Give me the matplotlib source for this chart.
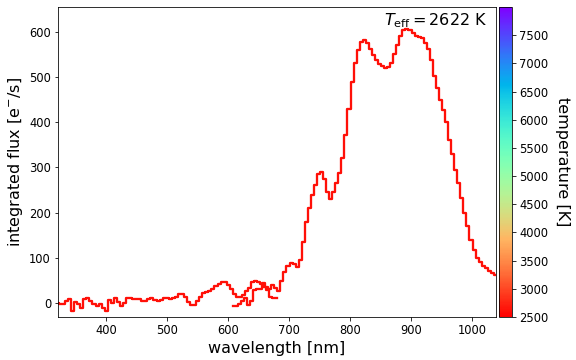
#!/usr/bin/env python
"""Espectro integrado BP/RP con barra de temperatura."""

import matplotlib

matplotlib.use("Agg")
import matplotlib.pyplot as plt
from matplotlib import cm, colors

T_EFF = 2622
T_MIN, T_MAX = 2500, 8000
CBAR_TICKS = [2500, 3000, 3500, 4000, 4500, 5000, 5500, 6000, 6500, 7000, 7500]

# BP (azul)
bp_wl = list(range(320, 685, 5))
bp_flux = [
    0, -2, -3, 5, 9, -18, 3, -2, -10, 8,
    10, 5, -2, -7, -3, -10, -17, 7, 1, 10,
    2, -6, 1, 11, 12, 9, 9, 8, 5, 5,
    8, 11, 7, 4, 6, 11, 12, 9, 10, 14,
    19, 20, 13, 2, -4, -4, 4, 14, 22, 25,
    27, 32, 37, 42, 47, 46, 40, 30, 19, 14,
    13, 17, 26, 33, 46, 48, 47, 42, 35, 28,
    13, 10, 10,
]

# RP (rojo)
rp_wl = list(range(608, 1043, 5))
rp_flux = [
    -6, -6, -3, 5, 10, -4, 5, 28, 30, 31,
    44, 35, 32, 40, 33, 27, 48, 68, 82, 88,
    86, 80, 95, 135, 180, 210, 240, 262, 285, 290,
    275, 245, 230, 245, 265, 288, 320, 372, 430, 490,
    532, 560, 578, 582, 576, 563, 548, 537, 530, 525,
    521, 522, 532, 550, 572, 592, 604, 607, 605, 598,
    592, 589, 587, 576, 562, 538, 502, 476, 450, 428,
    400, 360, 330, 295, 266, 232, 200, 170, 140, 118,
    100, 90, 83, 78, 70, 66, 62,
]


def main() -> int:
    fig = plt.figure(figsize=(8, 5), dpi=72)
    ax = fig.add_axes([0.1007, 0.1194, 0.7604, 0.861])
    cax = fig.add_axes([0.8663, 0.1194, 0.0226, 0.861])

    cmap = plt.get_cmap("rainbow_r")
    norm = colors.Normalize(vmin=T_MIN, vmax=T_MAX)
    col = cmap(norm(T_EFF))

    ax.plot(bp_wl, bp_flux, drawstyle="steps-mid", color=col, lw=2.3)
    ax.plot(rp_wl, rp_flux, drawstyle="steps-mid", color=col, lw=2.3)

    ax.set_xlim(321, 1039)
    ax.set_ylim(-31, 655)
    ax.set_xlabel("wavelength [nm]", fontsize=16)
    ax.set_ylabel(r"integrated flux [e$^{-}$/s]", fontsize=16)
    ax.tick_params(labelsize=11.5)
    ax.text(
        0.98,
        0.985,
        rf"$T_{{\rm eff}} = {T_EFF}$ K",
        transform=ax.transAxes,
        ha="right",
        va="top",
        fontsize=16,
    )

    sm = cm.ScalarMappable(norm=norm, cmap=cmap)
    cb = fig.colorbar(sm, cax=cax, ticks=CBAR_TICKS)
    cb.ax.tick_params(labelsize=11.5)
    cb.set_label("temperature [K]", fontsize=16, rotation=270, labelpad=22)

    fig.savefig("out.png", dpi=72)
    plt.close(fig)
    return 0


if __name__ == "__main__":
    raise SystemExit(main())
